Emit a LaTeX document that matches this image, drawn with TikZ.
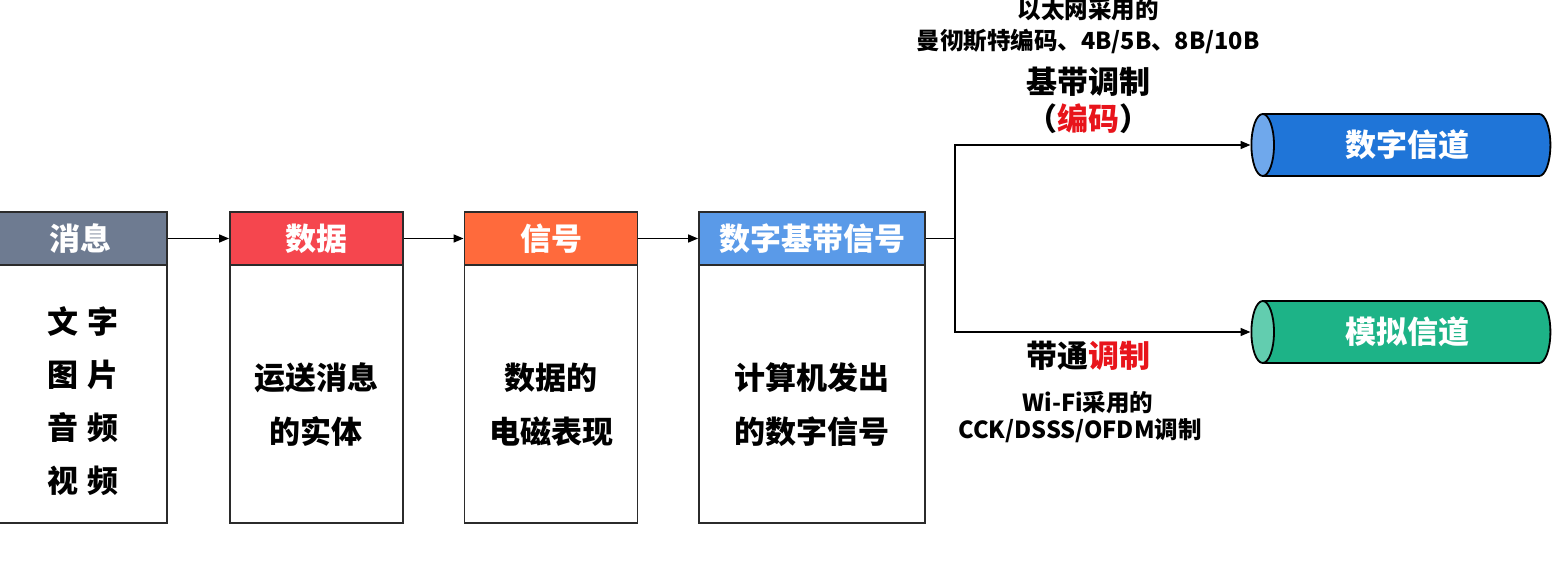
\documentclass[tikz,border=0pt]{standalone}
\usepackage{fontspec}
\setmainfont{Noto Sans CJK SC}
\usetikzlibrary{shapes.geometric,arrows.meta}
\definecolor{lineC}{HTML}{2B2B2B}
\definecolor{grayH}{HTML}{6E7B91}
\definecolor{redH}{HTML}{F5464E}
\definecolor{orangeH}{HTML}{FF6A3C}
\definecolor{blueH}{HTML}{5A9AE8}
\definecolor{digBody}{HTML}{1F75D8}
\definecolor{digEnd}{HTML}{6FA8EC}
\definecolor{anaBody}{HTML}{1DB387}
\definecolor{anaEnd}{HTML}{62CDAF}
\definecolor{redT}{HTML}{E8141B}
\begin{document}
\begin{tikzpicture}[x=1pt,y=-1pt,
  hdr/.style={draw=lineC, line width=1.8pt, minimum height=53pt, text=white,
    font=\bfseries\fontsize{31}{31}\selectfont, inner sep=0pt},
  bodybox/.style={draw=lineC, line width=1.8pt, minimum height=258pt, inner sep=0pt},
  bodytext/.style={font=\bfseries\fontsize{31}{54}\selectfont, align=center, text=black, inner sep=0pt},
  smalltext/.style={font=\bfseries\fontsize{23.5}{30}\selectfont, align=center, text=black, inner sep=0pt},
  midtext/.style={font=\bfseries\fontsize{31}{31}\selectfont, align=center, text=black, inner sep=0pt},
  conn/.style={draw=black, line width=1.6pt, -{Triangle[length=10pt,width=8pt]}},
  plainline/.style={draw=black, line width=1.6pt},
  chan/.style={cylinder, shape border rotate=180, draw=black, line width=1.8pt,
    minimum width=62pt, minimum height=299pt, aspect=0.75, inner sep=0pt,
    text=white, font=\bfseries\fontsize{31}{31}\selectfont, cylinder uses custom fill}
]
\useasboundingbox (0,0) rectangle (1561,583);
\fill[white] (0,0) rectangle (1561,583);

% boxes
\node[hdr, fill=grayH, minimum width=173pt] (h1) at (80.5,238.5) {消息};
\node[bodybox, minimum width=173pt] (b1) at (80.5,394) {};
\node[bodytext, font=\bfseries\fontsize{31}{53}\selectfont] (t1) at (83,401) {文\hspace{10pt}字\\图\hspace{10pt}片\\音\hspace{10pt}频\\视\hspace{10pt}频};

\node[hdr, fill=redH, minimum width=173pt] (h2) at (316.5,238.5) {数据};
\node[bodybox, minimum width=173pt] (b2) at (316.5,394) {};
\node[bodytext] (t2) at (316,405) {运送消息\\的实体};

\node[hdr, fill=orangeH, minimum width=173pt] (h3) at (551,238.5) {信号};
\node[bodybox, minimum width=173pt] (b3) at (551,394) {};
\node[bodytext] (t3) at (551,405) {数据的\\电磁表现};

\node[hdr, fill=blueH, minimum width=226pt] (h4) at (812,238.5) {数字基带信号};
\node[bodybox, minimum width=226pt] (b4) at (812,394) {};
\node[bodytext] (t4) at (812,405) {计算机发出\\的数字信号};

% channels
\node[chan, cylinder body fill=digBody, cylinder end fill=digEnd] (dig) at (1407,145) {数字信道};
\node[chan, cylinder body fill=anaBody, cylinder end fill=anaEnd] (ana) at (1407,332) {模拟信道};

% connectors
\coordinate (split) at (955,238.5);
\draw[conn] (h1) -- (h2);
\draw[conn] (h2) -- (h3);
\draw[conn] (h3) -- (h4);
\draw[plainline] (h4.east) -- (split);
\draw[conn] (split) |- (dig);
\draw[conn] (split) |- (ana);

% labels
\node[smalltext] (l1) at (1088,10) {以太网采用的};
\node[smalltext] (l2) at (1088,41) {曼彻斯特编码、4B/5B、8B/10B};
\node[midtext] (l3) at (1088,82) {基带调制};
\node[midtext] (l4) at (1088,119) {（\textcolor{redT}{编码}）};
\node[midtext] (l5) at (1088,356) {带通\textcolor{redT}{调制}};
\node[smalltext] (l6) at (1088,403) {Wi-Fi采用的};
\node[smalltext] (l7) at (1080,431) {CCK/DSSS/OFDM调制};
\end{tikzpicture}
\end{document}
